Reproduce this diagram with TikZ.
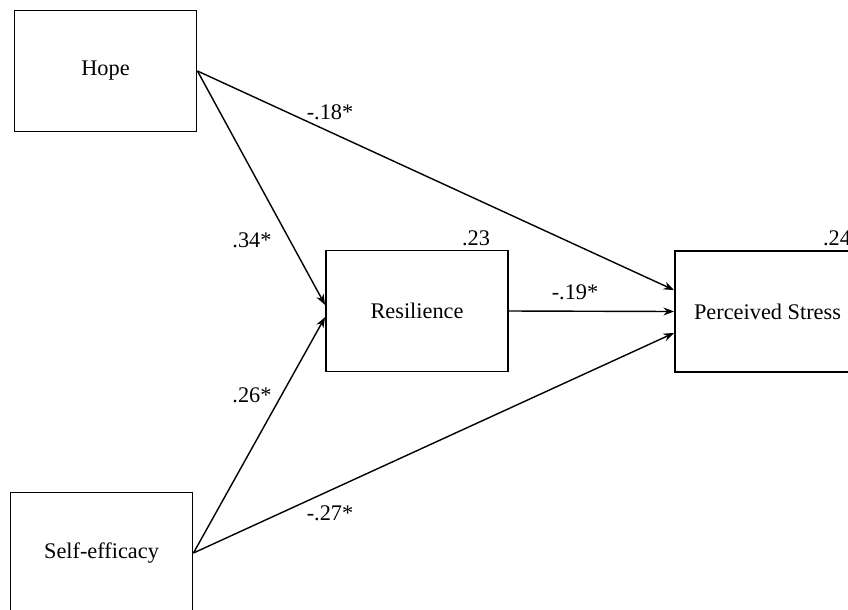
\documentclass[tikz,border=0pt]{standalone}
\usepackage{fontspec}
\setmainfont{Liberation Serif}
\usepackage{tikz}
\usetikzlibrary{arrows.meta}
\usetikzlibrary{positioning}

\begin{document}
\begin{tikzpicture}[x=0.02cm, y=-0.02cm,
        font=\fontsize{12.7}{15}\selectfont,
        var/.style={draw, line width=1.1pt, inner sep=0pt, minimum width=3.64cm, minimum height=2.42cm},
        path/.style={-{Stealth[length=6pt, width=4.5pt]}, line width=0.8pt}]
            \useasboundingbox (0, 0) rectangle (848, 609);
            \clip (0, 0) rectangle (848, 609);

            % variables
            \node[var] (hope) at (105.5, 71) {Hope};
            \node[var] (selfeff) at (101.5, 553) {Self-efficacy};
            \node[var] (resil) at (417, 311) {Resilience};
            \node[var, minimum width=3.7cm] (stress) at (767.5, 311.5) {Perceived Stress};

            % explained variance
            \node (rresil) at (476, 238) {.23};
            \node (rstress) at (837, 238) {.24};

            % paths
            \draw[path] (hope.east) -- ([yshift=3.5pt]resil.west);
            \draw[path] (selfeff.east) -- ([yshift=-3.5pt]resil.west);
            \draw[path] (hope.east) -- ([yshift=12.2pt]stress.west);
            \draw[path] (resil.east) -- (stress.west);
            \draw[path] (selfeff.east) -- ([yshift=-12.2pt]stress.west);

            \node (bhr) at (252, 240) {.34*};
            \node (bsr) at (252, 395) {.26*};
            \node (bhs) at (330, 112) {-.18*};
            \node (brs) at (575, 292) {-.19*};
            \node (bss) at (330, 513) {-.27*};
        \end{tikzpicture}
\end{document}
